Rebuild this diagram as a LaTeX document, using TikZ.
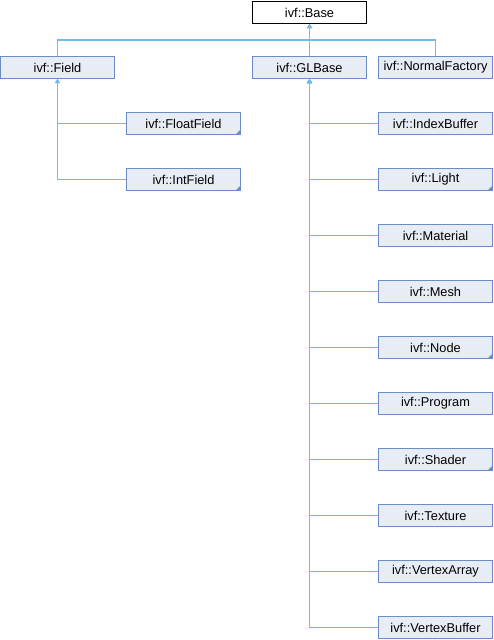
\documentclass[tikz,border=0pt]{standalone}
\usepackage{fontspec}
\setmainfont{Liberation Sans}
\usetikzlibrary{arrows.meta}

\definecolor{boxfill}{RGB}{232,236,245}
\definecolor{boxline}{RGB}{108,140,196}
\definecolor{edgecol}{RGB}{110,188,232}

\tikzset{
  cls/.style={draw=boxline,fill=boxfill,line width=1pt,minimum width=114pt,minimum height=22pt,inner sep=0pt,font=\fontsize{12.8}{14}\selectfont},
  root/.style={cls,draw=black,fill=white},
  more/.style={cls,path picture={\fill[boxline] (path picture bounding box.south east) -- ++(-5pt,0pt) -- ++(5pt,5pt) -- cycle;}},
  edge/.style={draw=edgecol,line width=1.1pt,-{Triangle[width=5pt,length=4pt]}}
}

\begin{document}
\begin{tikzpicture}[x=1pt,y=-1pt]
\useasboundingbox (0,0) rectangle (494,640);

% Top
\node[root] (base) at (309.5,12.5) {ivf::Base};

% Second row
\node[cls] (field) at (57.5,67.5) {ivf::Field};
\node[cls] (glbase) at (309.5,67.5) {ivf::GLBase};
\node[cls] (normalfactory) at (435.5,67.5) {ivf::NormalFactory};

% Field children
\node[more] (floatfield) at (183.5,123.5) {ivf::FloatField};
\node[more] (intfield) at (183.5,179.5) {ivf::IntField};

% GLBase children
\node[cls] (indexbuffer) at (435.5,123.5) {ivf::IndexBuffer};
\node[more] (light) at (435.5,179.5) {ivf::Light};
\node[cls] (material) at (435.5,235.5) {ivf::Material};
\node[cls] (mesh) at (435.5,291.5) {ivf::Mesh};
\node[more] (node) at (435.5,347.5) {ivf::Node};
\node[cls] (program) at (435.5,403.5) {ivf::Program};
\node[more] (shader) at (435.5,459.5) {ivf::Shader};
\node[cls] (texture) at (435.5,515.5) {ivf::Texture};
\node[cls] (vertexarray) at (435.5,571.5) {ivf::VertexArray};
\node[cls] (vertexbuffer) at (435.5,627.5) {ivf::VertexBuffer};

% Inheritance to Base
\draw[edge] (field.north) -- ++(0,-16) -| (base.south);
\draw[edge] (glbase.north) -- (base.south);
\draw[edge] (normalfactory.north) -- ++(0,-16) -| (base.south);

% Inheritance to Field
\draw[edge] (floatfield.west) -| (field.south);
\draw[edge] (intfield.west) -| (field.south);

% Inheritance to GLBase
\draw[edge] (indexbuffer.west) -| (glbase.south);
\draw[edge] (light.west) -| (glbase.south);
\draw[edge] (material.west) -| (glbase.south);
\draw[edge] (mesh.west) -| (glbase.south);
\draw[edge] (node.west) -| (glbase.south);
\draw[edge] (program.west) -| (glbase.south);
\draw[edge] (shader.west) -| (glbase.south);
\draw[edge] (texture.west) -| (glbase.south);
\draw[edge] (vertexarray.west) -| (glbase.south);
\draw[edge] (vertexbuffer.west) -| (glbase.south);
\end{tikzpicture}
\end{document}
